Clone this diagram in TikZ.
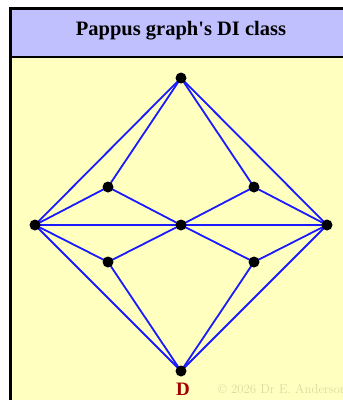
\documentclass[tikz,border=0pt]{standalone}
\usepackage{fontspec}
\newfontfamily\titlefont{Liberation Serif}
\definecolor{titlebg}{HTML}{C0C0FF}
\definecolor{panelbg}{HTML}{FFFFC0}
\definecolor{edgeblue}{HTML}{1A1AFF}
\definecolor{labred}{HTML}{A00000}
\definecolor{copyc}{HTML}{DCDA9E}
\tikzset{
  vtx/.style={circle,fill=black,inner sep=0pt,minimum size=11pt},
  edg/.style={draw=edgeblue,line width=1.8pt},
}
\begin{document}
\begin{tikzpicture}[x=1pt,y=-1pt]
\useasboundingbox (0,0) rectangle (343,400);
\begin{scope}
\clip (0,0) rectangle (343,400);
\fill[panelbg] (10.5,57) rectangle (360,420);
\fill[titlebg] (10.5,8.5) rectangle (360,57);
\draw[black,line width=3pt] (10.5,420) -- (10.5,8.5) -- (360,8.5);
\draw[black,line width=1.5pt] (10.5,57) -- (360,57);
\node[anchor=base west,text=copyc,font=\fontsize{12.8}{15}\selectfont,inner sep=0pt] (copy) at (218,393) {\copyright{} 2026 Dr E. Anderson};
\end{scope}
\node[font=\titlefont\bfseries\fontsize{20.5}{23}\selectfont,inner sep=0pt] (title) at (181,31) {Pappus graph's DI class};
\coordinate (T) at (181,78);
\coordinate (L) at (35,225);
\coordinate (C) at (181,225);
\coordinate (R) at (327,225);
\coordinate (B) at (181,371);
\coordinate (UL) at (108,187);
\coordinate (UR) at (254,187);
\coordinate (LL) at (108,262);
\coordinate (LR) at (254,262);
\foreach \a/\b in {T/L,T/UL,T/UR,T/R,L/UL,L/C,L/LL,L/B,C/R,C/UL,C/UR,C/LL,C/LR,R/UR,R/LR,R/B,B/LL,B/LR}
  \draw[edg] (\a) -- (\b);
\foreach \v in {T,L,C,R,B,UL,UR,LL,LR}
  \node[vtx] (n\v) at (\v) {};
\node[anchor=base,text=labred,font=\titlefont\bfseries\fontsize{19}{21}\selectfont,inner sep=0pt] (lab) at (183,395) {D};
\end{tikzpicture}
\end{document}
